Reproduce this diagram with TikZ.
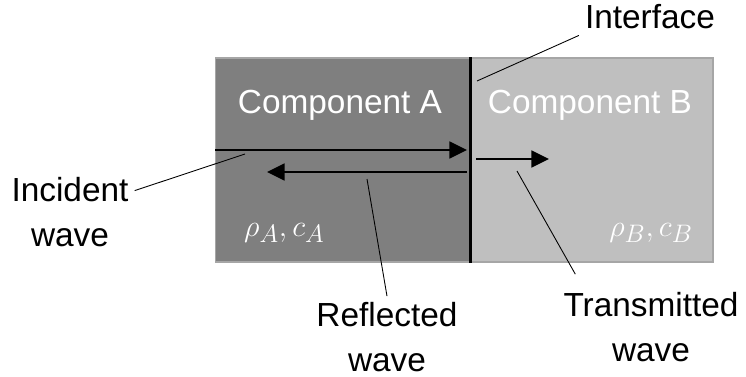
\documentclass[tikz,border=0pt]{standalone}
\usepackage{fontspec}
\setmainfont{Liberation Sans}
\usetikzlibrary{arrows.meta,positioning}
\definecolor{medA}{HTML}{7F7F7F}
\definecolor{medB}{HTML}{BFBFBF}
\definecolor{rim}{HTML}{A6A6A6}

\begin{document}
\begin{tikzpicture}[
  x=0.02cm, y=-0.02cm,
  slab/.style={draw=rim, line width=0.6pt, minimum height=4.08cm, inner sep=0pt},
  comptitle/.style={text=white, font=\fontsize{19}{22}\selectfont, anchor=base},
  prop/.style={text=white, font=\fontsize{19}{22}\selectfont},
  lab/.style={font=\fontsize{19}{25.5}\selectfont, align=center},
  wave/.style={-{Triangle[length=10pt,width=9.5pt]}, line width=1.5pt},
  lead/.style={line width=0.5pt}
]
  \useasboundingbox (0,0) rectangle (746,376);

  % the two media
  \node[slab, fill=medA, minimum width=5.1cm] (A) at (342.5,160) {};
  \node[slab, fill=medB, minimum width=4.86cm] (B) at (591.5,160) {};
  \draw[line width=1.7pt] (A.north east) -- (A.south east);

  \node[comptitle] (nameA) at (340,113) {Component A};
  \node[comptitle] (nameB) at (590,113) {Component B};
  \node[prop, anchor=west] (propA) at (238,233) {$\rho_A, c_A$};
  \node[prop, anchor=east] (propB) at (699,233) {$\rho_B, c_B$};

  % waves
  \coordinate (incS) at (215,150);
  \coordinate (incE) at (467,150);
  \coordinate (refS) at (467,172);
  \coordinate (refE) at (267,172);
  \coordinate (traS) at (476,159);
  \coordinate (traE) at (549,159);
  \draw[wave] (incS) -- (incE);
  \draw[wave] (refS) -- (refE);
  \draw[wave] (traS) -- (traE);

  % labels
  \node[lab] (iface) at (650,17) {Interface};
  \node[lab] (inc) at (70,212) {Incident\\wave};
  \node[lab] (refl) at (387,337) {Reflected\\wave};
  \node[lab] (trans) at (651,327) {Transmitted\\wave};

  \coordinate (ifaceP) at (477,81);
  \coordinate (incP) at (245,154);
  \coordinate (reflP) at (367,179);
  \coordinate (transP) at (517,171);
  \draw[lead] (iface.south west) -- (ifaceP);
  \draw[lead] (inc) -- (incP);
  \draw[lead] (refl.north) -- (reflP);
  \draw[lead] ([shift={(18,-12)}]trans.north west) -- (transP);
\end{tikzpicture}
\end{document}
